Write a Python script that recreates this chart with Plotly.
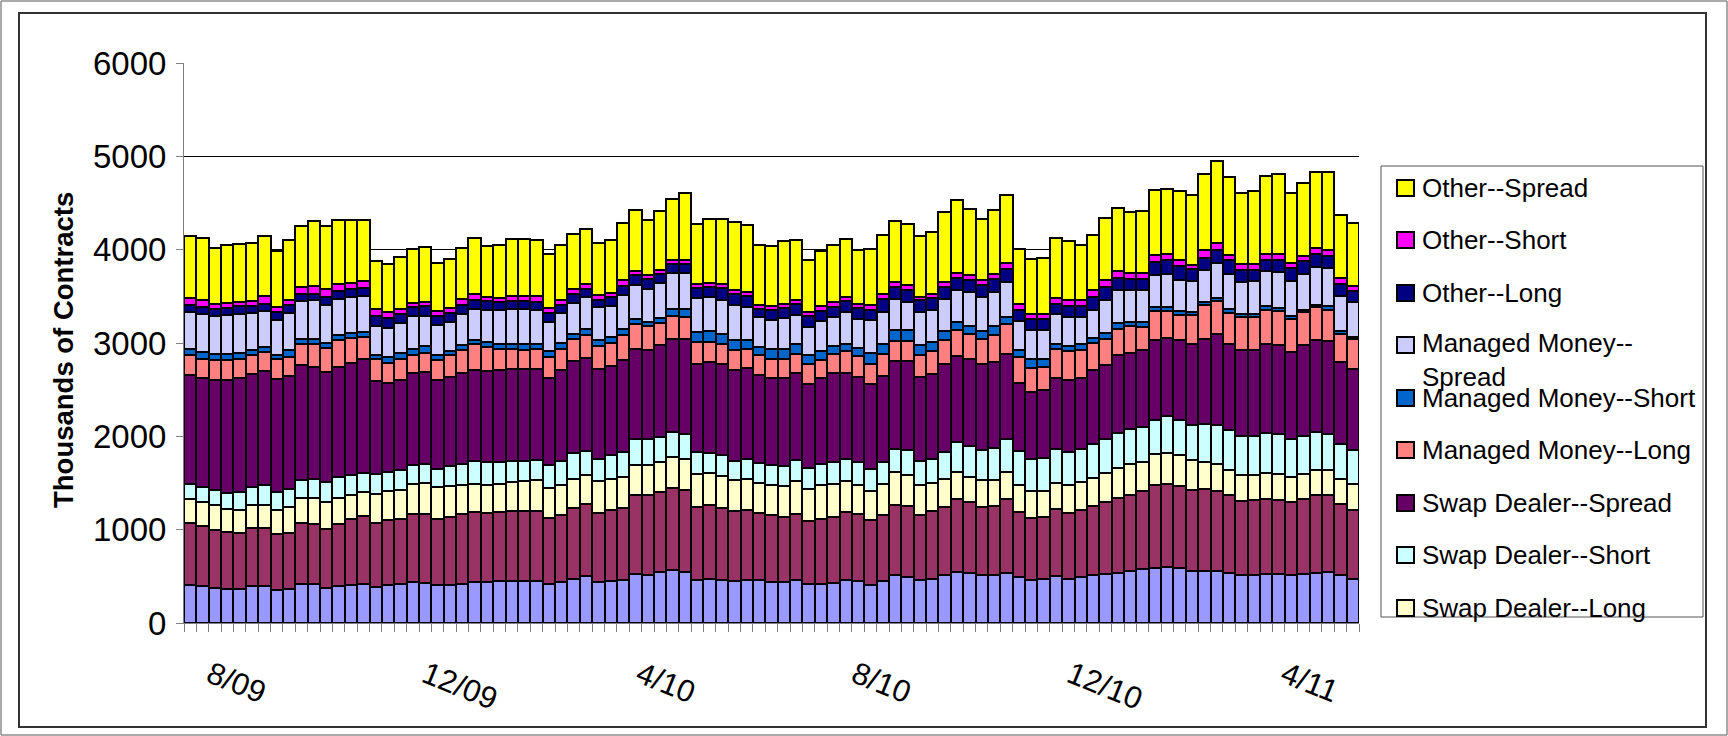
import pandas as pd
import plotly.graph_objects as go

# Weekly report dates (Tuesdays), one bar per week
weeks = pd.date_range("2009-07-07", periods=95, freq="7D")

tick_dates = ["2009-08-01", "2009-12-01", "2010-04-01", "2010-08-01", "2010-12-01", "2011-04-01"]
tick_labels = ["8/09", "12/09", "4/10", "8/10", "12/10", "4/11"]

producer_long = [411, 393, 375, 368, 368, 393, 393, 350, 368, 421, 414, 375, 393, 411, 421, 386, 411, 414, 439, 429,
                 404, 411, 421, 439, 439, 450, 450, 450, 450, 421, 439, 471, 500, 439, 446, 464, 529, 518, 546, 564,
                 546, 464, 475, 464, 450, 464, 457, 439, 439, 457, 421, 421, 429, 464, 450, 411, 450, 511, 493, 457,
                 475, 511, 546, 536, 511, 511, 536, 493, 464, 475, 500, 475, 493, 511, 521, 539, 557, 582, 589, 600,
                 589, 557, 557, 557, 536, 511, 518, 529, 529, 511, 521, 539, 546, 511, 475]
producer_short = [661, 643, 625, 607, 600, 625, 625, 607, 596, 650, 650, 636, 671, 707, 721, 686, 696, 704, 732, 736,
                  714, 725, 743, 750, 743, 739, 746, 746, 746, 704, 721, 761, 779, 739, 768, 771, 839, 857, 857, 886,
                  875, 779, 786, 768, 746, 750, 721, 714, 696, 714, 668, 696, 707, 725, 721, 689, 704, 757, 761, 704,
                  721, 732, 786, 757, 732, 739, 789, 696, 661, 661, 725, 704, 721, 743, 775, 800, 818, 832, 886, 893,
                  875, 864, 875, 854, 832, 793, 796, 796, 786, 786, 811, 829, 821, 768, 739]
swap_long = [261, 261, 261, 250, 246, 243, 250, 250, 279, 271, 279, 286, 275, 257, 261, 307, 307, 311, 321, 336,
             339, 329, 318, 304, 300, 304, 314, 325, 332, 321, 314, 314, 311, 339, 325, 329, 321, 314, 321, 329,
             339, 350, 350, 343, 332, 332, 325, 321, 332, 350, 350, 357, 357, 332, 304, 314, 339, 350, 329, 314,
             304, 296, 286, 271, 293, 286, 293, 286, 286, 275, 279, 304, 296, 300, 311, 325, 325, 311, 332, 329,
             332, 321, 293, 296, 275, 286, 275, 286, 286, 268, 268, 275, 275, 268, 271]
swap_short = [161, 161, 161, 171, 189, 196, 207, 196, 196, 193, 204, 214, 225, 214, 207, 218, 204, 207, 196, 207,
              196, 214, 225, 239, 243, 232, 225, 214, 214, 243, 257, 279, 250, 243, 264, 268, 286, 279, 268, 268,
              268, 239, 211, 221, 207, 214, 211, 214, 211, 221, 221, 232, 232, 239, 250, 239, 232, 250, 268, 261,
              261, 293, 321, 332, 314, 343, 357, 364, 350, 361, 364, 350, 357, 361, 361, 371, 382, 375, 364, 393,
              375, 382, 411, 418, 421, 411, 411, 425, 421, 411, 400, 404, 386, 368, 364]
swap_spread = [1161, 1168, 1179, 1204, 1225, 1207, 1225, 1214, 1204, 1225, 1196, 1179, 1179, 1196, 1221, 1000, 957, 971, 989, 982,
               954, 957, 975, 975, 971, 989, 989, 989, 982, 939, 975, 982, 1004, 964, 946, 982, 964, 954, 982, 1000,
               1011, 946, 975, 975, 979, 971, 939, 936, 950, 939, 904, 921, 957, 921, 911, 911, 921, 936, 954, 900,
               911, 939, 918, 936, 921, 918, 911, 736, 714, 721, 757, 775, 761, 793, 793, 832, 814, 821, 864, 839,
               857, 861, 911, 968, 929, 929, 929, 950, 961, 929, 975, 982, 989, 882, 875]
managed_long = [221, 207, 214, 221, 200, 204, 207, 207, 207, 225, 243, 261, 286, 271, 232, 232, 211, 218, 196, 207,
                214, 232, 246, 279, 261, 221, 214, 204, 207, 221, 225, 232, 239, 239, 254, 268, 268, 257, 239, 243,
                239, 232, 214, 214, 214, 207, 214, 207, 204, 204, 207, 196, 196, 232, 221, 214, 232, 218, 218, 232,
                243, 257, 279, 264, 268, 293, 314, 275, 257, 250, 307, 304, 300, 296, 286, 286, 282, 250, 304, 286,
                268, 311, 357, 357, 329, 350, 350, 371, 357, 357, 357, 357, 339, 304, 314]
managed_short = [57, 68, 64, 64, 64, 54, 50, 43, 79, 54, 54, 54, 54, 50, 54, 46, 64, 68, 64, 71,
                 54, 43, 54, 50, 54, 57, 54, 64, 54, 64, 68, 61, 64, 64, 61, 71, 54, 46, 54, 71,
                 82, 107, 118, 114, 107, 89, 89, 100, 107, 107, 96, 86, 86, 79, 93, 118, 114, 121, 121, 107,
                 96, 100, 89, 86, 86, 89, 79, 79, 100, 82, 61, 57, 57, 50, 61, 61, 46, 54, 50, 46,
                 43, 36, 30, 33, 40, 28, 33, 36, 36, 28, 22, 22, 36, 28, 22]
managed_spread = [400, 407, 407, 418, 414, 400, 386, 375, 393, 411, 418, 400, 393, 386, 382, 311, 314, 321, 350, 321,
                  314, 314, 325, 332, 346, 364, 375, 375, 364, 311, 321, 329, 346, 357, 329, 357, 357, 357, 375, 389,
                  389, 368, 364, 364, 368, 357, 321, 318, 329, 311, 304, 332, 314, 339, 311, 346, 339, 332, 296, 357,
                  346, 346, 346, 361, 368, 368, 375, 304, 304, 311, 321, 311, 293, 304, 357, 357, 339, 339, 339, 357,
                  332, 329, 346, 375, 379, 346, 350, 375, 386, 375, 386, 404, 411, 375, 375]
other_long = [79, 79, 82, 71, 86, 79, 79, 89, 82, 71, 71, 89, 82, 82, 93, 100, 104, 93, 96, 104,
              100, 96, 104, 96, 93, 82, 82, 82, 89, 96, 89, 96, 82, 79, 100, 100, 107, 100, 100, 100,
              100, 107, 107, 125, 118, 118, 89, 100, 107, 111, 118, 107, 107, 118, 118, 114, 143, 125, 132, 125,
              129, 125, 129, 132, 125, 136, 136, 118, 125, 125, 107, 118, 118, 136, 136, 125, 125, 125, 143, 146,
              154, 136, 136, 143, 143, 129, 125, 125, 132, 136, 136, 143, 125, 132, 118]
other_short = [75, 71, 54, 54, 50, 50, 79, 54, 54, 79, 79, 89, 71, 68, 71, 82, 64, 61, 43, 46,
               54, 57, 64, 57, 43, 46, 50, 50, 61, 54, 54, 54, 54, 54, 43, 61, 43, 43, 43, 43,
               43, 43, 43, 46, 43, 43, 43, 43, 39, 43, 43, 46, 54, 43, 43, 46, 46, 54, 54, 36,
               36, 54, 50, 50, 54, 54, 71, 64, 54, 54, 61, 68, 68, 71, 79, 75, 64, 64, 71, 61,
               61, 43, 79, 71, 61, 61, 61, 61, 61, 61, 61, 64, 71, 57, 61]
other_spread = [657, 671, 600, 625, 621, 621, 643, 600, 643, 650, 696, 668, 693, 671, 650, 507, 518, 554, 582, 589,
                514, 525, 543, 604, 543, 568, 611, 611, 607, 575, 582, 586, 589, 557, 571, 618, 654, 596, 629, 646,
                714, 636, 689, 696, 732, 714, 643, 643, 679, 650, 561, 596, 607, 618, 579, 607, 639, 650, 654, 654,
                668, 750, 779, 711, 661, 686, 721, 596, 582, 600, 643, 625, 582, 596, 654, 675, 650, 657, 693, 696,
                739, 743, 814, 875, 829, 768, 779, 832, 857, 750, 779, 811, 829, 679, 668]

series_names = ["Producer/Merchant--Long", "Producer/Merchant--Short",
                "Swap Dealer--Long", "Swap Dealer--Short", "Swap Dealer--Spread",
                "Managed Money--Long", "Managed Money--Short", "Managed Money--Spread",
                "Other--Long", "Other--Short", "Other--Spread"]
series_values = [producer_long, producer_short, swap_long, swap_short, swap_spread,
                 managed_long, managed_short, managed_spread, other_long, other_short, other_spread]
series_colors = ["#9999FF", "#993366", "#FFFFCC", "#CCFFFF", "#660066",
                 "#FF8080", "#0066CC", "#CCCCFF", "#000080", "#FF00FF", "#FFFF00"]

# legend (as in the picture: top 9 series, top to bottom)
legend_entries = ["Other--Spread", "Other--Short", "Other--Long", "Managed Money--<br>Spread",
                  "Managed Money--Short", "Managed Money--Long", "Swap Dealer--Spread",
                  "Swap Dealer--Short", "Swap Dealer--Long"]
legend_colors = ["#FFFF00", "#FF00FF", "#000080", "#CCCCFF", "#0066CC", "#FF8080",
                 "#660066", "#CCFFFF", "#FFFFCC"]

W, H = 1728, 736
L, R, T, B = 184, 1359, 63, 623
FONT = "Liberation Sans, Arial, sans-serif"


def px(x):
    return (x - L) / (R - L)


def py(y):
    return (B - y) / (B - T)


fig = go.Figure()
week_ms = 7 * 24 * 3600 * 1000
for name, vals, col in zip(series_names, series_values, series_colors):
    fig.add_trace(go.Bar(x=weeks, y=vals, name=name, width=week_ms,
                         marker=dict(color=col, line=dict(color="black", width=2)),
                         showlegend=False))

half = pd.Timedelta(days=3.5)
x0 = weeks[0] - half
x1 = weeks[-1] + half

shapes = []
annotations = []

# chart frames
shapes.append(dict(type="rect", xref="paper", yref="paper", x0=px(1), x1=px(1727), y0=py(735), y1=py(1),
                   line=dict(color="#555555", width=1), fillcolor="rgba(0,0,0,0)", layer="below"))
shapes.append(dict(type="rect", xref="paper", yref="paper", x0=px(19), x1=px(1706), y0=py(727), y1=py(13),
                   line=dict(color="#333333", width=2), fillcolor="rgba(0,0,0,0)", layer="below"))

# legend box
shapes.append(dict(type="rect", xref="paper", yref="paper", x0=px(1381), x1=px(1703), y0=py(617), y1=py(166),
                   line=dict(color="#555555", width=1), fillcolor="white", layer="below"))
ys = [188, 240, 293, 345, 398, 450, 503, 555, 608]
for i, (txt, col) in enumerate(zip(legend_entries, legend_colors)):
    yc = ys[i]
    shapes.append(dict(type="rect", xref="paper", yref="paper", x0=px(1397), x1=px(1414),
                       y0=py(yc + 8), y1=py(yc - 8), line=dict(color="black", width=2), fillcolor=col))
    ytxt = yc + 15 if "<br>" in txt else yc
    annotations.append(dict(text=txt, xref="paper", yref="paper", x=px(1420), y=py(ytxt),
                            xanchor="left", yanchor="middle", showarrow=False, align="left",
                            font=dict(family=FONT, size=26, color="black")))

# y axis title
annotations.append(dict(text="<b>Thousands of Contracts</b>", xref="paper", yref="paper",
                        x=px(63), y=py(350), textangle=-90, showarrow=False,
                        xanchor="center", yanchor="middle",
                        font=dict(family=FONT, size=27.5, color="black")))

fig.update_layout(
    width=W, height=H,
    margin=dict(l=L, r=W - R, t=T, b=H - B, pad=0),
    paper_bgcolor="white", plot_bgcolor="white",
    barmode="stack", bargap=0,
    font=dict(family=FONT, color="black"),
    shapes=shapes, annotations=annotations,
    showlegend=False,
)
fig.update_xaxes(type="date", range=[x0, x1], showgrid=False, zeroline=False,
                 showline=True, linecolor="#808080", linewidth=1,
                 tickmode="array", tickvals=tick_dates, ticktext=tick_labels,
                 ticks="", tickangle=22, ticklabelstandoff=21, ticklabelshift=-24,
                 tickfont=dict(family=FONT, size=31, color="black"),
                 minor=dict(ticks="outside", ticklen=8, tickcolor="#808080", tickwidth=1,
                            tickmode="linear", tick0=x0.strftime("%Y-%m-%d %H:%M:%S"), dtick=week_ms,
                            showgrid=False))
fig.update_yaxes(range=[0, 6000], dtick=1000, tick0=0, showgrid=True, gridcolor="black", gridwidth=1,
                 zeroline=False, showline=True, linecolor="#808080", linewidth=1,
                 ticks="outside", ticklen=7, tickcolor="#808080",
                 ticklabelstandoff=3,
                 tickfont=dict(family=FONT, size=33, color="black"))

fig.write_html("out.html", config={"displayModeBar": False},
               post_script="document.body.style.margin='0';document.body.style.overflow='hidden';")
